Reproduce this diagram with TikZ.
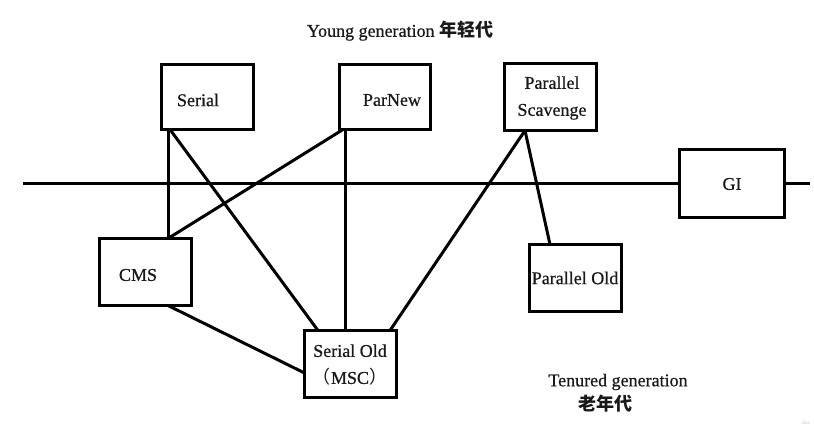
\documentclass[tikz,border=0pt]{standalone}
\usepackage{fontspec}
\setmainfont{Liberation Serif}
\newfontfamily\serifgc[FakeBold=0.6]{Liberation Serif}
\newfontfamily\cjk{Noto Sans CJK SC}
\usetikzlibrary{calc}
\begin{document}
\begin{tikzpicture}[x=1pt,y=-1pt,
  gcbox/.style={draw=black,line width=3.2pt,inner sep=0pt,outer sep=0pt},
  lbl/.style={inner sep=0pt,font=\serifgc\fontsize{18}{27}\selectfont,text=black!90,align=center},
  conn/.style={draw=black,line width=3pt}]
\useasboundingbox[fill=white] (0,0) rectangle (814,439);
% boxes
\node[gcbox,minimum width=92pt,minimum height=65pt] (serial) at (207.5,97) {};
\node[gcbox,minimum width=91pt,minimum height=65pt] (parnew) at (385,97) {};
\node[gcbox,minimum width=92pt,minimum height=67pt] (ps) at (550.5,97) {};
\node[gcbox,minimum width=105pt,minimum height=68pt] (gi) at (732,183.5) {};
\node[gcbox,minimum width=92pt,minimum height=67pt] (cms) at (145.5,272) {};
\node[gcbox,minimum width=92pt,minimum height=67pt] (pold) at (575.5,278) {};
\node[gcbox,minimum width=92pt,minimum height=67pt] (sold) at (350.5,364) {};
% labels
\node[lbl] (serialT) at (198,100) {Serial};
\node[lbl] (parnewT) at (392,100) {ParNew};
\node[lbl] (psT) at (552,98) {Parallel\\Scavenge};
\node[lbl] (giT) at (732,184) {GI};
\node[lbl] (cmsT) at (138,275) {CMS};
\node[lbl] (poldT) at (575,278) {Parallel Old};
\node[lbl] (soldT) at (350,365) {Serial Old\\{\cjk （}MSC{\cjk ）}};
\node[lbl] (young) at (400,31) {Young generation {\cjk\bfseries 年轻代}};
\node[lbl] (tenured) at (618,382) {Tenured generation};
\node[lbl] (tenuredC) at (605,404) {\cjk\bfseries 老年代};
\node[inner sep=0pt,font=\fontsize{5}{6}\selectfont,text=black!25] (wm) at (806,423) {Zac};
% horizontal line
\coordinate (hl) at (23,183.5);
\coordinate (hr) at (810,183.5);
\draw[conn,line width=3.4pt] (hl) -- (gi.west);
\draw[conn,line width=3.4pt] (gi.east) -- (hr);
% connectors
\draw[conn] ($(serial.south west)+(6.5,0)$) -- ($(cms.north west)+(68.5,0)$);
\draw[conn] ($(serial.south west)+(8.5,0)$) -- ($(sold.north west)+(13.5,0)$);
\draw[conn] ($(parnew.south west)+(3.5,0)$) -- ($(cms.north west)+(68.5,0)$);
\draw[conn] ($(parnew.south west)+(5.5,0)$) -- ($(sold.north west)+(40.5,0)$);
\draw[conn] ($(ps.south west)+(20.5,0)$) -- ($(sold.north west)+(85.5,0)$);
\draw[conn] ($(ps.south west)+(20.5,0)$) -- ($(pold.north west)+(20.5,0)$);
\draw[conn] ($(cms.south west)+(68.5,0)$) -- ($(sold.north west)+(0,42.5)$);
\end{tikzpicture}
\end{document}
